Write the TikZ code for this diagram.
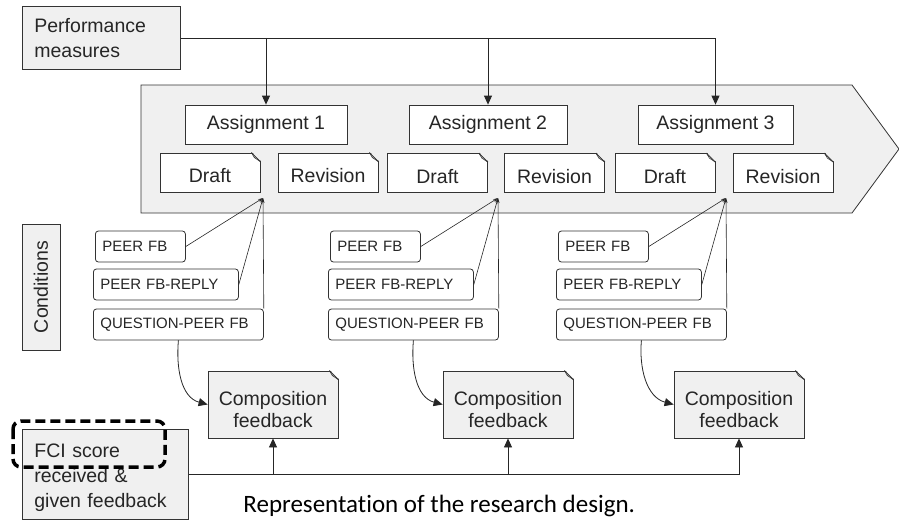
\documentclass[tikz,border=0pt]{standalone}
\usepackage{fontspec}
\setmainfont{Liberation Sans}
\newfontfamily\captionfont[Ligatures=NoCommon]{Carlito}
\usetikzlibrary{arrows.meta,calc}

\begin{document}
\begin{tikzpicture}[x=1pt,y=-1pt,line width=0.8pt,
  box/.style={draw=black!80, fill=gray!12, text=black!85, inner sep=0pt, font=\fontsize{19.5}{25}\selectfont},
  plain/.style={box, fill=white},
  note/.style={plain, minimum width=100, minimum height=39, text height=20pt, text depth=0pt},
  cond/.style={draw=black!80, fill=white, rounded corners=3pt, text=black!85, anchor=west, minimum height=31,
    inner xsep=7pt, inner ysep=0pt, text width=#1, align=left, font=\fontsize{15}{16}\selectfont},
  feed/.style={-{Triangle[length=9pt,width=8pt]}, draw=black!85},
  tick/.style={-{Stealth[length=5pt,width=3pt]}, draw=black!85, line width=0.6pt}]
\useasboundingbox (0,0) rectangle (899,520);
\draw[draw=black!80, fill=gray!12] (141,85) -- (852,85) -- (899,149) -- (852,213) -- (141,213) -- cycle;
\node[box, anchor=north west, minimum width=158, minimum height=63, text width=134, inner xsep=12pt, align=left] (perf) at (22,6) {Performance\\measures};
\node[plain, minimum width=162, minimum height=39] (a1) at (266,124.5) {Assignment 1};
\node[plain, minimum width=158, minimum height=39] (a2) at (488,124.5) {Assignment 2};
\node[plain, minimum width=155, minimum height=39] (a3) at (715.5,124.5) {Assignment 3};
\node[note] (d1) at (210,172.5) {Draft};
\node[note] (r1) at (328,172.5) {Revision};
\node[note] (d2) at (437.5,173) {Draft};
\node[note] (r2) at (554.5,173) {Revision};
\node[note] (d3) at (665,173) {Draft};
\node[note] (r3) at (783,173) {Revision};
\node[box, minimum width=126, minimum height=38, rotate=90] (cond) at (41,287) {Conditions};
\foreach \g/\x/\kx in {1/93/273, 2/328/508, 3/556/739} {
  \coordinate (c\g) at (\x+170,198);
  \node[cond=76] (pf\g) at (\x+2,246.5) {PEER FB};
  \node[cond=131] (pr\g) at (\x,284.5) {PEER FB-REPLY};
  \node[cond=156] (pq\g) at (\x,324.5) {QUESTION-PEER FB};
  \node[box, minimum width=130, minimum height=67, align=center, font=\fontsize{19.5}{22}\selectfont, text height=45pt, text depth=0pt] (k\g) at (\kx,404.5) {Composition\\feedback};
  \draw[tick] (pf\g.east) -- (c\g);
  \draw[tick] (pr\g.east) -- (c\g);
  \draw[tick] (pq\g.north east) -- (c\g);
  \draw[feed] (pq\g.south) to[out=-95,in=165] (k\g.west);
}
\foreach \n/\bg in {d1/gray!12, r1/gray!12, d2/gray!12, r2/gray!12, d3/gray!12, r3/gray!12, k1/white, k2/white, k3/white} {
  \fill[\bg] ($(\n.north east)+(-9,-1)$) -- ($(\n.north east)+(1,-1)$) -- ($(\n.north east)+(1,9)$) -- cycle;
  \draw[black!80] ($(\n.north east)+(-9,0)$) -- ($(\n.north east)+(0,9)$);
  \draw[black!80, line width=0.6pt] ($(\n.north east)+(-9,0)$) -- ($(\n.north east)+(-6,5)$) -- ($(\n.north east)+(0,9)$);
}
\draw[feed] (perf.east) -| (a3.north);
\draw[feed] (perf.east -| a1.north) -- (a1.north);
\draw[feed] (perf.east -| a2.north) -- (a2.north);
\node[box, anchor=north west, minimum width=166, minimum height=90, text width=142, inner xsep=12pt, align=left, text height=20pt] (fci) at (22,429) {FCI score\\received \&\\given feedback};
\draw[feed] (fci.east) -| (k3.south);
\draw[feed] (fci.east -| k1.south) -- (k1.south);
\draw[feed] (fci.east -| k2.south) -- (k2.south);
\draw[black, line width=3.5pt, dash pattern=on 10pt off 5pt, rounded corners=8pt] (13,421) rectangle (165,467);
\node[anchor=base west, inner sep=0pt, font=\captionfont\fontsize{25}{28}\selectfont] (caption) at (243,512) {Representation of the research design.};
\end{tikzpicture}
\end{document}
